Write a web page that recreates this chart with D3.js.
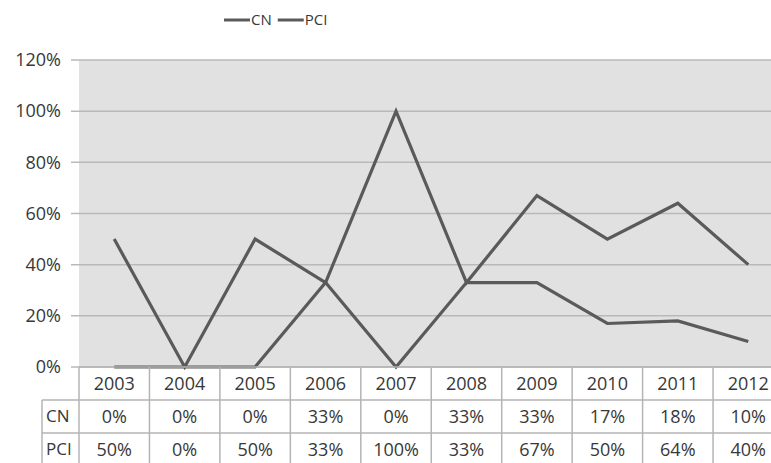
<!DOCTYPE html>
<html>
<head>
<meta charset="utf-8">
<script src="https://cdn.jsdelivr.net/npm/d3@7"></script>
<style>
  body { margin: 0; background: #fff; }
  text { font-family: "Open Sans", sans-serif; fill: #383838; }
</style>
</head>
<body>
<div id="chart"></div>
<script>
// data
const years = ["2003", "2004", "2005", "2006", "2007", "2008", "2009", "2010", "2011", "2012"];
const cn = [0, 0, 0, 0.33, 0, 0.33, 0.33, 0.17, 0.18, 0.10];
const pci = [0.50, 0, 0.50, 0.33, 1.00, 0.33, 0.67, 0.50, 0.64, 0.40];
const yTicks = [0, 0.2, 0.4, 0.6, 0.8, 1.0, 1.2];
const seriesNames = ["CN", "PCI"];

const W = 771, H = 463;
const plotLeft = 79, plotRight = 783.5, plotTop = 60, plotBottom = 367;
const rowH = 33;

const svg = d3.select("#chart")
  .append("svg")
  .attr("width", W)
  .attr("height", H);

const x = d3.scaleBand()
  .domain(years)
  .range([plotLeft, plotRight]);

const y = d3.scaleLinear()
  .domain([0, 1.2])
  .range([plotBottom, plotTop]);

// plot background
svg.append("rect")
  .attr("x", plotLeft)
  .attr("y", plotTop)
  .attr("width", plotRight - plotLeft)
  .attr("height", plotBottom - plotTop)
  .attr("fill", "#e1e1e2");

// gridlines
svg.append("g")
  .selectAll("line")
  .data(yTicks)
  .join("line")
  .attr("x1", plotLeft - 8)
  .attr("x2", plotRight)
  .attr("y1", d => y(d))
  .attr("y2", d => y(d))
  .attr("stroke", "#b9b9b9")
  .attr("stroke-width", 1.5);

// y tick labels
svg.append("g")
  .selectAll("text")
  .data(yTicks)
  .join("text")
  .attr("x", 61)
  .attr("y", d => y(d))
  .attr("dy", "0.35em")
  .attr("text-anchor", "end")
  .style("font-size", "18px")
  .text(d => d3.format(".0%")(d));

// lines
const line = d3.line()
  .x((d, i) => x(years[i]) + x.bandwidth() / 2)
  .y(d => y(d));

[cn, pci].forEach(s => {
  svg.append("path")
    .datum(s)
    .attr("d", line)
    .attr("fill", "none")
    .attr("stroke", "#5a5a5a")
    .attr("stroke-width", 3.2)
    .attr("stroke-linejoin", "miter");
});

// data table
const tbl = svg.append("g");
const border = "#b4b4b4";
// horizontal lines
tbl.append("line").attr("x1", plotLeft).attr("x2", plotRight).attr("y1", plotBottom).attr("y2", plotBottom)
  .attr("stroke", border).attr("stroke-width", 1.5);
[plotBottom + rowH, plotBottom + rowH * 2].forEach(yy => {
  tbl.append("line").attr("x1", 42).attr("x2", plotRight).attr("y1", yy).attr("y2", yy)
    .attr("stroke", border).attr("stroke-width", 1.5);
});
// vertical lines
tbl.selectAll("line.v")
  .data(years)
  .join("line")
  .attr("class", "v")
  .attr("x1", d => x(d))
  .attr("x2", d => x(d))
  .attr("y1", plotBottom)
  .attr("y2", H)
  .attr("stroke", border)
  .attr("stroke-width", 1.5);
tbl.append("line").attr("x1", 42).attr("x2", 42).attr("y1", plotBottom + rowH).attr("y2", H)
  .attr("stroke", border).attr("stroke-width", 1.5);

// year row
tbl.selectAll("text.year")
  .data(years)
  .join("text")
  .attr("class", "year")
  .attr("x", d => x(d) + x.bandwidth() / 2)
  .attr("y", plotBottom + rowH / 2)
  .attr("dy", "0.35em")
  .attr("text-anchor", "middle")
  .style("font-size", "18px")
  .text(d => d);

// value rows
[cn, pci].forEach((s, r) => {
  const yy = plotBottom + rowH * (r + 1) + rowH / 2;
  tbl.append("text")
    .attr("x", 46)
    .attr("y", yy)
    .attr("dy", "0.35em")
    .style("font-size", "17px")
    .text(seriesNames[r]);
  tbl.selectAll("text.val" + r)
    .data(s)
    .join("text")
    .attr("class", "val" + r)
    .attr("x", (d, i) => x(years[i]) + x.bandwidth() / 2)
    .attr("y", yy)
    .attr("dy", "0.35em")
    .attr("text-anchor", "middle")
    .style("font-size", "18px")
    .text(d => d3.format(".0%")(d));
});

// legend
const legend = svg.append("g");
let lx = 224;
seriesNames.forEach((n, i) => {
  legend.append("line")
    .attr("x1", lx)
    .attr("x2", lx + 26)
    .attr("y1", 20)
    .attr("y2", 20)
    .attr("stroke", "#5a5a5a")
    .attr("stroke-width", 3);
  const t = legend.append("text")
    .attr("x", lx + 27)
    .attr("y", 20)
    .attr("dy", "0.35em")
    .style("font-size", "15px")
    .text(n);
  lx = lx + 27 + t.node().getComputedTextLength() + 6;
});
</script>
</body>
</html>
